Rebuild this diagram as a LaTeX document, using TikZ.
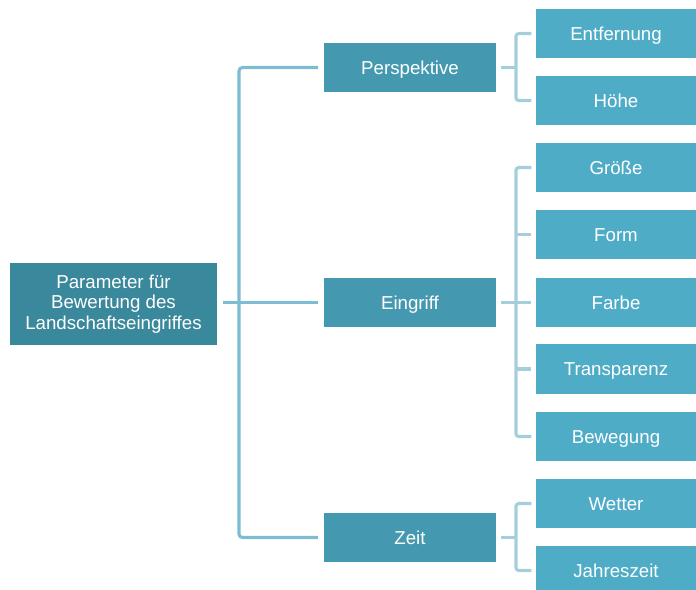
\documentclass[tikz,border=0pt]{standalone}
\usepackage{fontspec}
\setmainfont{Liberation Sans}

\definecolor{rootteal}{HTML}{3A889C}
\definecolor{midteal}{HTML}{4499B1}
\definecolor{leafteal}{HTML}{4FACC7}
\definecolor{trunkline}{HTML}{7DBDD3}
\definecolor{twigline}{HTML}{A5CEDD}

\begin{document}
\begin{tikzpicture}[x=0.025cm,y=-0.025cm]
\tikzset{box/.style = {fill=#1, text=white, inner sep=0pt, align=center,
                       font=\fontsize{13.3}{14.4}\selectfont},
         rootbox/.style = {box=rootteal, minimum width=5.175cm, minimum height=2.05cm},
         midbox/.style  = {box=midteal, minimum width=4.3cm, minimum height=1.225cm,
                           text height=12.5pt, text depth=3pt},
         leafbox/.style = {box=leafteal, minimum width=4cm, minimum height=1.225cm,
                           text height=12.5pt, text depth=3pt},
         trunk/.style   = {draw=trunkline, line width=2.2pt, rounded corners=2.5pt},
         twig/.style    = {draw=twigline, line width=2.2pt, rounded corners=2pt}}
\useasboundingbox (0,0) rectangle (696,590);

% root and first level
\node[rootbox] (param) at (113.5,304) {Parameter für\\Bewertung des\\Landschaftseingriffes};
\node[midbox] (persp) at (410,67.5)  {Perspektive};
\node[midbox] (eingr) at (410,302.5) {Eingriff};
\node[midbox] (zeit)  at (410,537.5) {Zeit};

% second level
\node[leafbox] (entf)  at (616,33.5)  {Entfernung};
\node[leafbox] (hoehe) at (616,100.5) {Höhe};
\node[leafbox] (groe)  at (616,167.5) {Größe};
\node[leafbox] (form)  at (616,234.5) {Form};
\node[leafbox] (farbe) at (616,302.5) {Farbe};
\node[leafbox] (transp) at (616,369)  {Transparenz};
\node[leafbox] (beweg) at (616,436.5) {Bewegung};
\node[leafbox] (wetter) at (616,503.5) {Wetter};
\node[leafbox] (jahr)  at (616,570.5) {Jahreszeit};

% main tree
\coordinate (stem) at (239,302.5);
\path[trunk] ([xshift=4pt]param.east |- eingr.west) -- ([xshift=-4pt]eingr.west);
\path[trunk] ([xshift=-4pt]persp.west) -| (stem) |- ([xshift=-4pt]zeit.west);

% brackets to the leaves
\coordinate (b1) at (516,67.5);
\coordinate (b2) at (516,302.5);
\coordinate (b3) at (516,537.5);
\path[twig] ([xshift=3pt]persp.east) -- (b1);
\path[twig] ([xshift=-3pt]entf.west) -| (b1) |- ([xshift=-3pt]hoehe.west);
\path[twig] ([xshift=3pt]eingr.east) -- ([xshift=-3pt]farbe.west);
\path[twig] ([xshift=-3pt]groe.west) -| (b2) |- ([xshift=-3pt]beweg.west);
\path[twig] (form.west -| b2) -- ([xshift=-3pt]form.west);
\path[twig] (transp.west -| b2) -- ([xshift=-3pt]transp.west);
\path[twig] ([xshift=3pt]zeit.east) -- (b3);
\path[twig] ([xshift=-3pt]wetter.west) -| (b3) |- ([xshift=-3pt]jahr.west);
\end{tikzpicture}
\end{document}
